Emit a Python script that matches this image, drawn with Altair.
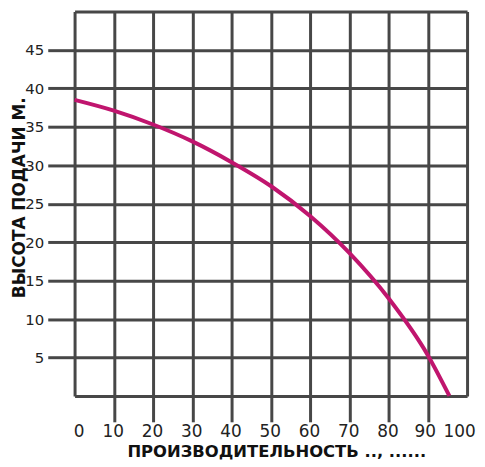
import altair as alt
import pandas as pd

# Pump curve values
flow = [0, 10, 20, 30, 40, 50, 60, 70, 80, 90, 95.5]
head = [38.5, 37.1, 35.3, 33.1, 30.4, 27.3, 23.4, 18.6, 12.7, 5.3, 0]

x_ticks = [0, 10, 20, 30, 40, 50, 60, 70, 80, 90, 100]
y_ticks = [0, 5, 10, 15, 20, 25, 30, 35, 40, 45, 50]

x_title = "ПРОИЗВОДИТЕЛЬНОСТЬ .., ......"
y_title = "ВЫСОТА ПОДАЧИ М."

df = pd.DataFrame({"flow": flow, "head": head})

GRID = "#474747"
FONT = "DejaVu Sans"

x_axis = alt.Axis(
    values=x_ticks, grid=True, gridColor=GRID, gridWidth=3, domain=False,
    ticks=True, tickSize=26, tickWidth=3,
    tickColor={"condition": {"test": "datum.value == 0 || datum.value == 100", "value": "rgba(0,0,0,0)"}, "value": GRID},
    labelFont=FONT, labelFontSize=17, labelColor="#222222", labelPadding=2,
    labelOffset={"condition": [
        {"test": "datum.value == 0", "value": 4},
        {"test": "datum.value == 90", "value": -3},
        {"test": "datum.value == 100", "value": -8},
    ], "value": -1},
    labelBound=False, labelOverlap=False, labelFlush=False,
    title=x_title, titleFont=FONT, titleFontSize=16.5, titleFontWeight="bold", titleColor="#111111",
    titleX=203, titleY=61, titleBaseline="alphabetic",
)
y_axis = alt.Axis(
    values=y_ticks, grid=True, gridColor=GRID, gridWidth=3, domain=False,
    ticks=True, tickSize=27, tickWidth=3,
    tickColor={"condition": {"test": "datum.value == 0 || datum.value == 50", "value": "rgba(0,0,0,0)"}, "value": GRID},
    labelExpr="datum.value == 0 || datum.value == 50 ? '' : datum.label",
    labelFont=FONT, labelFontSize=15, labelColor="#222222", labelPadding=4,
    title=y_title, titleFont=FONT, titleFontSize=17, titleFontWeight="bold", titleColor="#111111",
    titleX=-50, titleY=187, titleBaseline="alphabetic",
)

chart = alt.Chart(df).mark_line(color="#c0156e", strokeWidth=4, interpolate="monotone").encode(
    x=alt.X("flow:Q", scale=alt.Scale(domain=[0, 100], nice=False, zero=False), axis=x_axis),
    y=alt.Y("head:Q", scale=alt.Scale(domain=[0, 50], nice=False), axis=y_axis),
).properties(
    width=395, height=387,
    autosize=alt.AutoSizeParams(type="none"),
    padding={"left": 67, "top": 2, "right": 10, "bottom": 64},
).configure_view(strokeWidth=0)

chart.save("out.html", embed_options={"renderer": "svg", "actions": False})
